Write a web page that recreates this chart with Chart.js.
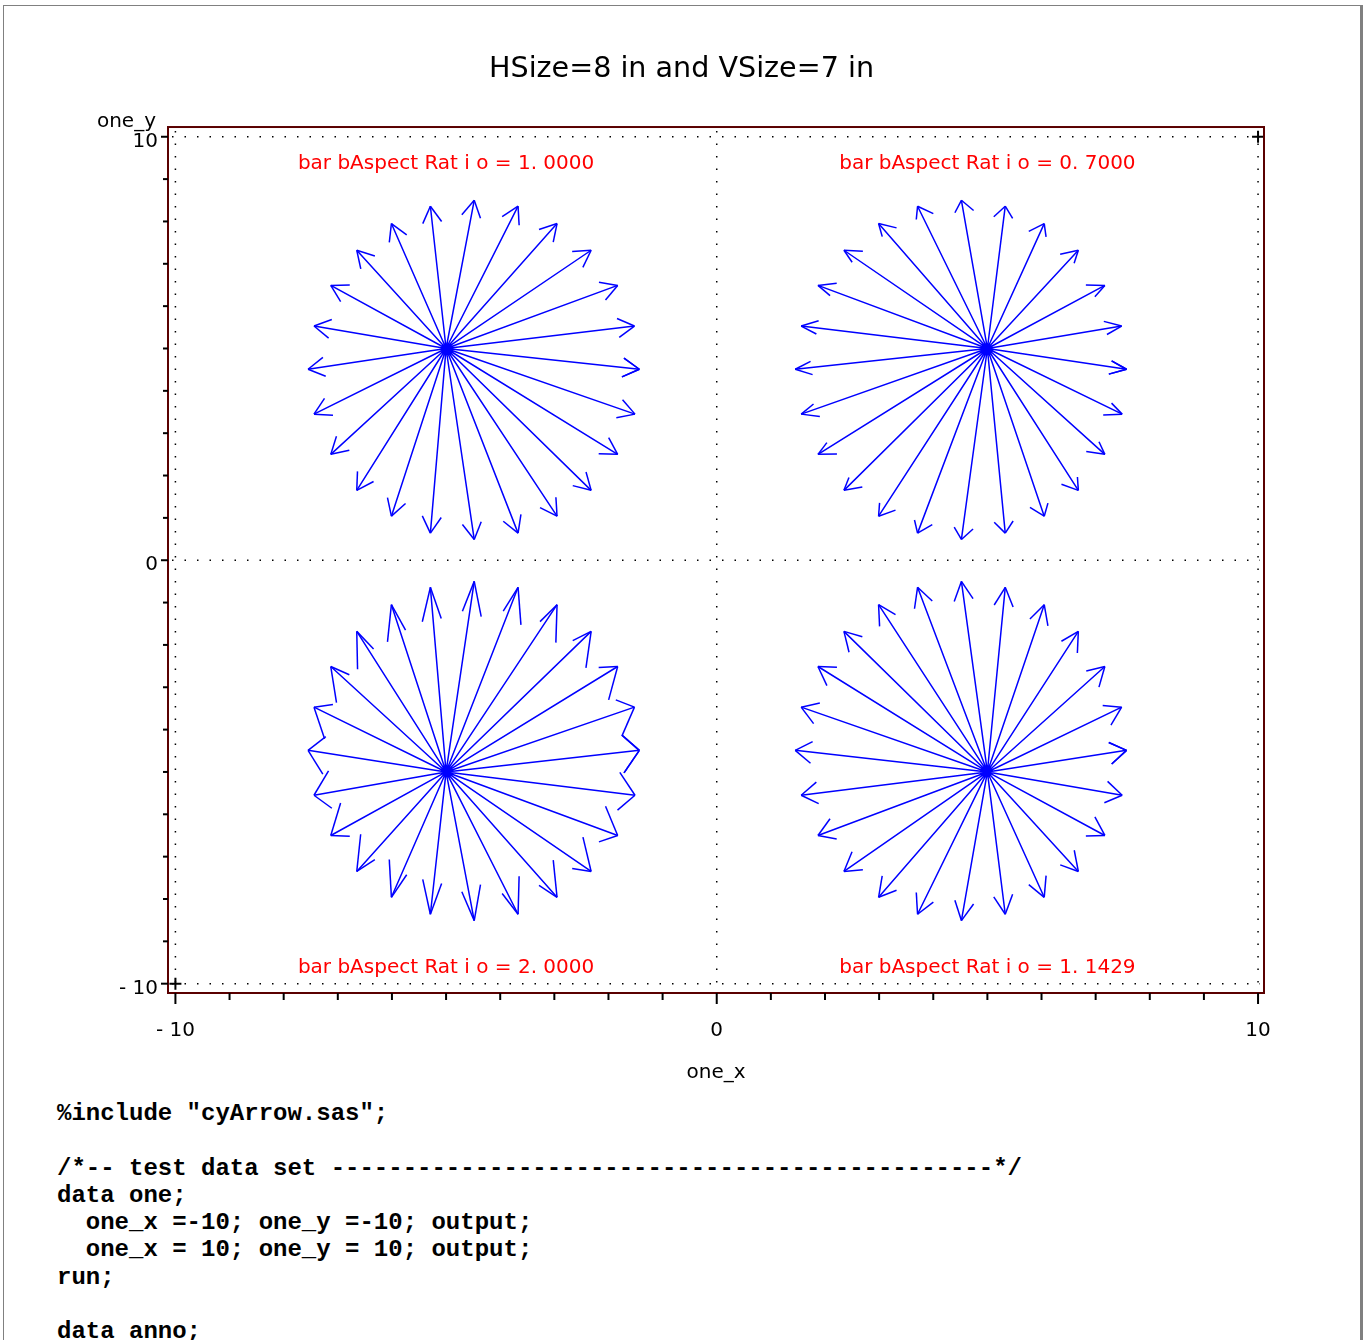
<!DOCTYPE html>
<html>
<head>
<meta charset="utf-8">
<script src="https://cdn.jsdelivr.net/npm/chart.js@4/dist/chart.umd.min.js"></script>
<style>
  body { margin: 0; background: #fff; }
  #page { position: absolute; left: 0; top: 0; width: 1363px; height: 1340px; overflow: hidden; background: #fff; }
  .edge { position: absolute; background: #808080; }
  #plot { position: absolute; left: 0; top: 0; }
  pre { position: absolute; left: 57px; top: 1100px; margin: 0; color: #000;
        font: bold 24px/27.3px "Liberation Mono", "Courier New", monospace; }
</style>
</head>
<body>
<div id="page">
  <div class="edge" style="left:3px;top:5px;width:1357px;height:1px"></div>
  <div class="edge" style="left:3px;top:5px;width:1px;height:1335px"></div>
  <div class="edge" style="left:1360px;top:5px;width:3px;height:1335px"></div>
  <canvas id="plot" width="1363" height="1090"></canvas>
<pre>%include "cyArrow.sas";

/*-- test data set ----------------------------------------------*/
data one;
  one_x =-10; one_y =-10; output;
  one_x = 10; one_y = 10; output;
run;

data anno;</pre>
</div>
<script>
// axis ticks
const xTickValues = [-10, -9, -8, -7, -6, -5, -4, -3, -2, -1, 0, 1, 2, 3, 4, 5, 6, 7, 8, 9, 10];
const yTickValues = [-10, -9, -8, -7, -6, -5, -4, -3, -2, -1, 0, 1, 2, 3, 4, 5, 6, 7, 8, 9, 10];
const majorTicks = [-10, 0, 10];
const majorTickLabels = ['- 10', '0', '10'];
const refLines = [-10, 0, 10];

// data set "one"
const oneX = [-10, 10];
const oneY = [-10, 10];

// arrow fans: origin of each fan and where each arrow ends (0..360 deg, first arrow drawn twice)
const fanNames = ['1.0000', '0.7000', '2.0000', '1.1429'];
const fanOriginX = [-5, 5, -5, 5];
const fanOriginY = [5, 5, -5, -5];
const barbRatio = [1.0, 0.7, 2.0, 1.1429];

const tipsX_TL = [-1.43, -1.52, -1.83, -2.32, -2.95, -3.67, -4.48, -5.29, -6.01, -6.65, -7.13, -7.44, -7.55, -7.44, -7.13, -6.65, -6.01, -5.29, -4.48, -3.67, -2.95, -2.32, -1.83, -1.51, -1.43];
const tipsY_TL = [4.51, 5.53, 6.49, 7.32, 7.95, 8.36, 8.50, 8.36, 7.95, 7.32, 6.49, 5.53, 4.51, 3.45, 2.50, 1.65, 1.04, 0.64, 0.49, 0.64, 1.04, 1.65, 2.50, 3.45, 4.51];
const tipsX_TR = [7.57, 7.48, 7.17, 6.68, 6.05, 5.33, 4.52, 3.71, 2.99, 2.35, 1.87, 1.56, 1.45, 1.56, 1.87, 2.35, 2.99, 3.71, 4.52, 5.33, 6.05, 6.68, 7.17, 7.49, 7.57];
const tipsY_TR = [4.51, 5.53, 6.49, 7.32, 7.95, 8.36, 8.50, 8.36, 7.95, 7.32, 6.49, 5.53, 4.51, 3.45, 2.50, 1.65, 1.04, 0.64, 0.49, 0.64, 1.04, 1.65, 2.50, 3.45, 4.51];
const tipsX_BL = [-1.43, -1.52, -1.83, -2.32, -2.95, -3.67, -4.48, -5.29, -6.01, -6.65, -7.13, -7.44, -7.55, -7.44, -7.13, -6.65, -6.01, -5.29, -4.48, -3.67, -2.95, -2.32, -1.83, -1.51, -1.43];
const tipsY_BL = [-4.49, -3.47, -2.51, -1.68, -1.05, -0.64, -0.50, -0.64, -1.05, -1.68, -2.51, -3.47, -4.49, -5.55, -6.50, -7.35, -7.96, -8.36, -8.51, -8.36, -7.96, -7.35, -6.50, -5.55, -4.49];
const tipsX_BR = [7.57, 7.48, 7.17, 6.68, 6.05, 5.33, 4.52, 3.71, 2.99, 2.35, 1.87, 1.56, 1.45, 1.56, 1.87, 2.35, 2.99, 3.71, 4.52, 5.33, 6.05, 6.68, 7.17, 7.49, 7.57];
const tipsY_BR = [-4.49, -3.47, -2.51, -1.68, -1.05, -0.64, -0.50, -0.64, -1.05, -1.68, -2.51, -3.47, -4.49, -5.55, -6.50, -7.35, -7.96, -8.36, -8.51, -8.36, -7.96, -7.35, -6.50, -5.55, -4.49];

const fanTipsX = [tipsX_TL, tipsX_TR, tipsX_BL, tipsX_BR];
const fanTipsY = [tipsY_TL, tipsY_TR, tipsY_BL, tipsY_BR];

// annotation text anchors (data units)
const noteX = [-5, 5, -5, 5];
const noteY = [9.37, 9.37, -9.63, -9.63];

const FONT = '"DejaVu Sans", Verdana, sans-serif';

// one dataset per fan: origin -> tip, then a gap
function fanData(f) {
    const pts = [];
    fanTipsX[f].forEach((tx, i) => {
        pts.push({ x: fanOriginX[f], y: fanOriginY[f] });
        pts.push({ x: tx, y: fanTipsY[f][i] });
        pts.push({ x: tx, y: null });
    });
    return pts;
}

const datasets = fanNames.map((name, f) => ({
    label: 'barbAspectRatio ' + name,
    data: fanData(f),
    showLine: true,
    spanGaps: false,
    borderColor: '#0000ff',
    borderWidth: 1.5,
    pointRadius: 0,
    pointHoverRadius: 0
}));

datasets.push({
    label: 'one',
    data: oneX.map((v, i) => ({ x: v, y: oneY[i] })),
    showLine: false,
    pointStyle: 'cross',
    pointRadius: 6,
    borderColor: '#000',
    borderWidth: 2
});

function line(ctx, x1, y1, x2, y2) {
    ctx.beginPath();
    ctx.moveTo(x1, y1);
    ctx.lineTo(x2, y2);
    ctx.stroke();
}

const sasDecor = {
    id: 'sasDecor',
    beforeDatasetsDraw(chart) {
        const { ctx, chartArea: a, scales: { x, y } } = chart;
        ctx.save();
        ctx.strokeStyle = '#000';
        ctx.lineWidth = 1.5;
        ctx.setLineDash([1.5, 11]);
        refLines.forEach(v => {
            const px = x.getPixelForValue(v);
            line(ctx, px, a.top + 4, px, a.bottom - 4);
            const py = y.getPixelForValue(v);
            line(ctx, a.left + 4, py, a.right - 4, py);
        });
        ctx.restore();
    },
    afterDatasetsDraw(chart) {
        const { ctx, chartArea: a, scales: { x, y } } = chart;
        ctx.save();

        // arrow heads
        ctx.strokeStyle = '#0000ff';
        ctx.lineWidth = 1.5;
        const barbLen = 19, barbAng = Math.PI / 6;
        fanTipsX.forEach((tipsX, f) => {
            const ox = x.getPixelForValue(fanOriginX[f]);
            const oy = y.getPixelForValue(fanOriginY[f]);
            tipsX.forEach((tx, i) => {
                const px = x.getPixelForValue(tx);
                const py = y.getPixelForValue(fanTipsY[f][i]);
                const len = Math.hypot(px - ox, py - oy);
                const bx = (ox - px) / len, by = (oy - py) / len;
                [barbAng, -barbAng].forEach(t => {
                    const rx = bx * Math.cos(t) - by * Math.sin(t);
                    const ry = bx * Math.sin(t) + by * Math.cos(t);
                    line(ctx, px, py, px + rx * barbLen, py + ry * barbLen * barbRatio[f]);
                });
            });
        });

        // red notes
        ctx.fillStyle = '#ff0000';
        ctx.font = '20px ' + FONT;
        ctx.textAlign = 'center';
        ctx.textBaseline = 'middle';
        fanNames.forEach((name, f) => {
            const txt = 'bar bAspect Rat i o = ' + name.replace('.', '. ');
            ctx.fillText(txt, x.getPixelForValue(noteX[f]), y.getPixelForValue(noteY[f]));
        });

        // frame
        ctx.strokeStyle = '#5a0000';
        ctx.lineWidth = 2;
        ctx.strokeRect(a.left, a.top, a.right - a.left, a.bottom - a.top);

        // tick marks
        ctx.strokeStyle = '#000';
        ctx.lineWidth = 2;
        xTickValues.forEach(v => {
            const px = x.getPixelForValue(v);
            line(ctx, px, a.bottom, px, a.bottom + (majorTicks.includes(v) ? 11 : 7));
        });
        yTickValues.forEach(v => {
            const py = y.getPixelForValue(v);
            line(ctx, a.left, py, a.left - (majorTicks.includes(v) ? 7 : 5), py);
        });

        // vertical axis label sits above the axis
        ctx.fillStyle = '#000';
        ctx.font = '20px ' + FONT;
        ctx.textAlign = 'right';
        ctx.textBaseline = 'alphabetic';
        ctx.fillText('one_y', a.left - 12, a.top);
        ctx.restore();
    }
};

function tickLabel(v) {
    const k = majorTicks.indexOf(v);
    return k >= 0 ? majorTickLabels[k] : '';
}

new Chart(document.getElementById('plot'), {
    type: 'scatter',
    data: { datasets: datasets },
    plugins: [sasDecor],
    options: {
        responsive: false,
        animation: false,
        devicePixelRatio: 1,
        layout: { padding: 0 },
        plugins: {
            legend: { display: false },
            tooltip: { enabled: false },
            title: {
                display: true,
                text: 'HSize=8 in and VSize=7 in',
                color: '#000',
                font: { family: FONT, size: 28.6, weight: 'normal' },
                padding: { top: 52, bottom: 40.7 }
            }
        },
        scales: {
            x: {
                type: 'linear',
                min: -10.137,
                max: 10.11,
                afterBuildTicks: s => { s.ticks = xTickValues.map(v => ({ value: v })); },
                afterFit: s => { s.height = 97; },
                grid: { display: false, drawTicks: false },
                border: { display: false },
                ticks: {
                    autoSkip: false, maxRotation: 0, padding: 26,
                    color: '#000', font: { family: FONT, size: 20 },
                    callback: v => tickLabel(v)
                },
                title: {
                    display: true, text: 'one_x', color: '#000',
                    font: { family: FONT, size: 20 },
                    padding: { top: 0, bottom: 5 }
                }
            },
            y: {
                type: 'linear',
                min: -10.22,
                max: 10.23,
                afterBuildTicks: s => { s.ticks = yTickValues.map(v => ({ value: v })); },
                afterFit: s => { s.width = 168; },
                grid: { display: false, drawTicks: false },
                border: { display: false },
                ticks: {
                    autoSkip: false, padding: 10, labelOffset: 5,
                    color: '#000', font: { family: FONT, size: 20 },
                    callback: v => tickLabel(v)
                }
            },
            // empty right-hand margin so the title centres on the whole page
            yMargin: {
                type: 'linear',
                position: 'right',
                min: -10.22,
                max: 10.23,
                afterFit: s => { s.width = 99; },
                grid: { display: false },
                border: { display: false },
                ticks: { display: false }
            }
        }
    }
});
</script>
</body>
</html>
